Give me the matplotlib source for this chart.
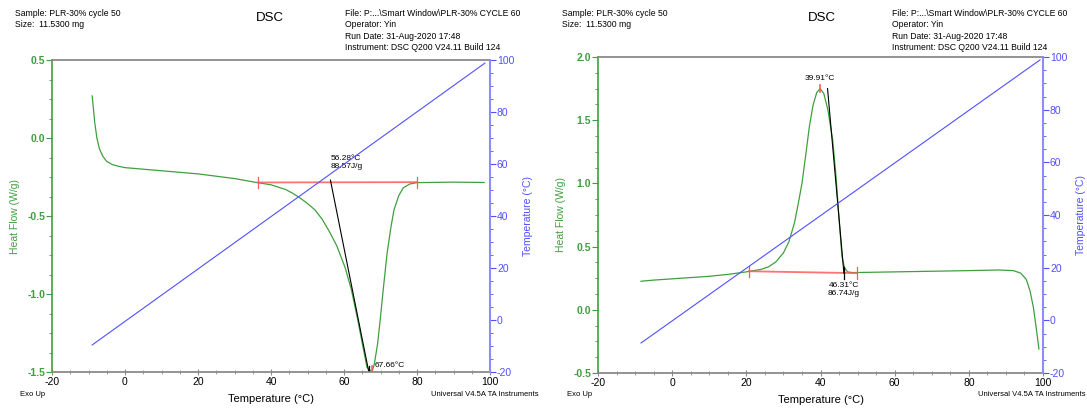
import numpy as np
import matplotlib
matplotlib.use("Agg")
from matplotlib import pyplot as plt
from matplotlib.ticker import MultipleLocator, FormatStrFormatter

plt.rcParams['font.family'] = ['Liberation Sans', 'DejaVu Sans']
plt.rcParams['axes.unicode_minus'] = False

# Heat flow curves
left_x = [-9, -8.7, -8.3, -7.7, -7.0, -6.0, -5.0, -3.5, -2.0, 0, 5, 10, 20, 30, 36,
          40, 44, 46, 48, 50, 52, 54, 56, 58, 60.3, 62, 63.8, 65.2, 66.3, 67.66,
          68.3, 69.2, 69.9, 70.8, 71.8, 72.8, 73.7, 75.0, 76.2, 78, 80, 90, 98.4]
left_hf = [0.27, 0.20, 0.10, 0.00, -0.07, -0.12, -0.15, -0.17, -0.18, -0.19, -0.20,
           -0.21, -0.23, -0.26, -0.285, -0.30, -0.33, -0.355, -0.385, -0.42, -0.46,
           -0.52, -0.60, -0.69, -0.83, -0.97, -1.17, -1.34, -1.47, -1.50, -1.45,
           -1.32, -1.17, -0.96, -0.74, -0.58, -0.46, -0.37, -0.32, -0.295, -0.286,
           -0.283, -0.285]

right_x = [-8.4, -5, 0, 5, 10, 15, 20, 24, 26, 28, 30, 31.5, 33, 34, 35, 36,
           37, 38, 39, 39.91, 40.9, 42, 43.3, 44.2, 45.0, 45.8, 46.5, 47.3, 48.5,
           50, 60, 70, 80, 88, 92, 94, 95.5, 96.5, 97.4, 98.2, 98.9]
right_hf = [0.226, 0.235, 0.245, 0.255, 0.265, 0.28, 0.30, 0.32, 0.34, 0.38, 0.45,
            0.54, 0.69, 0.84, 1.00, 1.22, 1.45, 1.62, 1.72, 1.75, 1.71, 1.58, 1.34,
            1.05, 0.72, 0.42, 0.33, 0.30, 0.295, 0.295, 0.30, 0.305, 0.31, 0.315,
            0.31, 0.29, 0.24, 0.15, 0.02, -0.15, -0.31]

# Sample temperature (straight ramp)
left_tx = [-9, 98.6]
left_temp = [-9.6, 98.8]
right_tx = [-8.4, 99.2]
right_temp = [-8.6, 98.9]

# Integration baselines and tangents
left_base_x = [36.4, 80]
left_base_hf = [-0.285, -0.283]
left_tan_x = [56.28, 66.8]
left_tan_hf = [-0.27, -1.50]
right_base_x = [20.7, 49.8]
right_base_hf = [0.305, 0.29]
right_tan_x = [41.9, 46.31]
right_tan_hf = [1.75, 0.29]

GREEN = '#3f9f3f'
BLUE = '#5050ff'
LBLUE = '#8c8cff'
RED = '#ff5a5a'
GRAY = '#8a8a8a'

fig = plt.figure(figsize=(10.87, 4.08), dpi=100)


def panel(rect, x, hf, tx, temp, ylim, ystep, bx, bhf, tnx, tnhf, labels):
    ax = fig.add_axes(rect)
    ax.plot(x, hf, color=GREEN, lw=0.9)
    ax.plot(bx, bhf, color=RED, lw=1.3, alpha=0.85)
    tick = (ylim[1] - ylim[0]) * 0.018
    for xb, yb in zip(bx, bhf):
        ax.plot([xb, xb], [yb - tick, yb + tick], color=RED, lw=0.9)
    ax.plot(tnx, tnhf, color='black', lw=0.8)
    ax.plot([tnx[1], tnx[1]], [tnhf[1] - tick, tnhf[1] + tick], color='black', lw=0.9)
    ax.set_xlim(-20, 100)
    ax.set_ylim(*ylim)
    ax.xaxis.set_major_locator(MultipleLocator(20))
    ax.xaxis.set_minor_locator(MultipleLocator(5))
    ax.yaxis.set_major_locator(MultipleLocator(ystep))
    ax.yaxis.set_minor_locator(MultipleLocator(ystep / 4))
    ax.yaxis.set_major_formatter(FormatStrFormatter('%.1f'))
    ax.tick_params(axis='x', which='both', direction='inout', labelsize=7.5,
                   color=GRAY, pad=1)
    ax.tick_params(axis='x', which='major', length=5)
    ax.tick_params(axis='x', which='minor', length=3)
    ax.tick_params(axis='y', which='both', direction='out', colors=GREEN,
                   labelsize=7.5, pad=1)
    ax.tick_params(axis='y', which='major', length=4)
    ax.tick_params(axis='y', which='minor', length=2)
    for lab in ax.get_yticklabels():
        lab.set_fontweight('bold')
    ax.spines['left'].set_color(GREEN)
    ax.spines['left'].set_linewidth(1.2)
    for s in ('top', 'bottom'):
        ax.spines[s].set_color(GRAY)
        ax.spines[s].set_linewidth(1.3)
    ax.spines['right'].set_visible(False)
    ax.set_ylabel('Heat Flow (W/g)', color=GREEN, fontsize=7.5, labelpad=5)
    ax.set_xlabel('Temperature (°C)', fontsize=8, labelpad=5)

    t = ax.twinx()
    t.plot(tx, temp, color=BLUE, lw=0.8)
    t.set_ylim(-20, 100)
    t.yaxis.set_major_locator(MultipleLocator(20))
    t.yaxis.set_minor_locator(MultipleLocator(5))
    t.tick_params(axis='y', which='both', direction='out', colors=BLUE,
                  labelsize=7.5, pad=1)
    t.tick_params(axis='y', which='major', length=4)
    t.tick_params(axis='y', which='minor', length=2)
    t.spines['right'].set_color(LBLUE)
    t.spines['right'].set_linewidth(1.5)
    for s in ('top', 'bottom', 'left'):
        t.spines[s].set_visible(False)
    t.set_ylabel('Temperature (°C)', color=BLUE, fontsize=7.5, labelpad=6)

    for (xx, yy, s, ha, va) in labels:
        ax.text(xx, yy, s, fontsize=6, ha=ha, va=va, linespacing=1.25)
    return ax


# left panel
axl = panel([52 / 1087, 36 / 408, 438 / 1087, 312 / 408], left_x, left_hf, left_tx,
            left_temp, (-1.5, 0.5), 0.5, left_base_x, left_base_hf,
            left_tan_x, left_tan_hf,
            [(56.28, -0.205, '56.28°C\n88.57J/g', 'left', 'bottom'),
             (68.4, -1.48, '67.66°C', 'left', 'bottom')])
axl.plot([67.66, 67.66], [-1.5, -1.46], color=RED, lw=1.2)

# right panel
axr = panel([598 / 1087, 35 / 408, 445 / 1087, 316 / 408], right_x, right_hf, right_tx,
            right_temp, (-0.5, 2.0), 0.5, right_base_x, right_base_hf,
            right_tan_x, right_tan_hf,
            [(39.91, 1.80, '39.91°C', 'center', 'bottom'),
             (46.31, 0.22, '46.31°C\n86.74J/g', 'center', 'top')])
axr.plot([39.91, 39.91], [1.72, 1.78], color=RED, lw=1.2)


# header / footer text in pixel coordinates
def ftext(px, py, s, **kw):
    fig.text(px / 1087, 1 - py / 408, s, **kw)


for off in (0, 547):
    ftext(15 + off, 9, 'Sample: PLR-30% cycle 50\nSize:  11.5300 mg', fontsize=6.2,
          va='top', linespacing=1.35)
    ftext(345 + off, 9, 'File: P:...\\Smart Window\\PLR-30% CYCLE 60\nOperator: Yin\n'
          'Run Date: 31-Aug-2020 17:48\nInstrument: DSC Q200 V24.11 Build 124',
          fontsize=6.2, va='top', linespacing=1.35)
    ftext(20 + off, 394, 'Exo Up', fontsize=5.5, va='center')
    ftext(539 + off, 394, 'Universal V4.5A TA Instruments', fontsize=5.5, va='center',
          ha='right')
ftext(270, 18, 'DSC', fontsize=9.5, ha='center', va='center')
ftext(822, 18, 'DSC', fontsize=9.5, ha='center', va='center')

plt.savefig('out.png', dpi=100)
